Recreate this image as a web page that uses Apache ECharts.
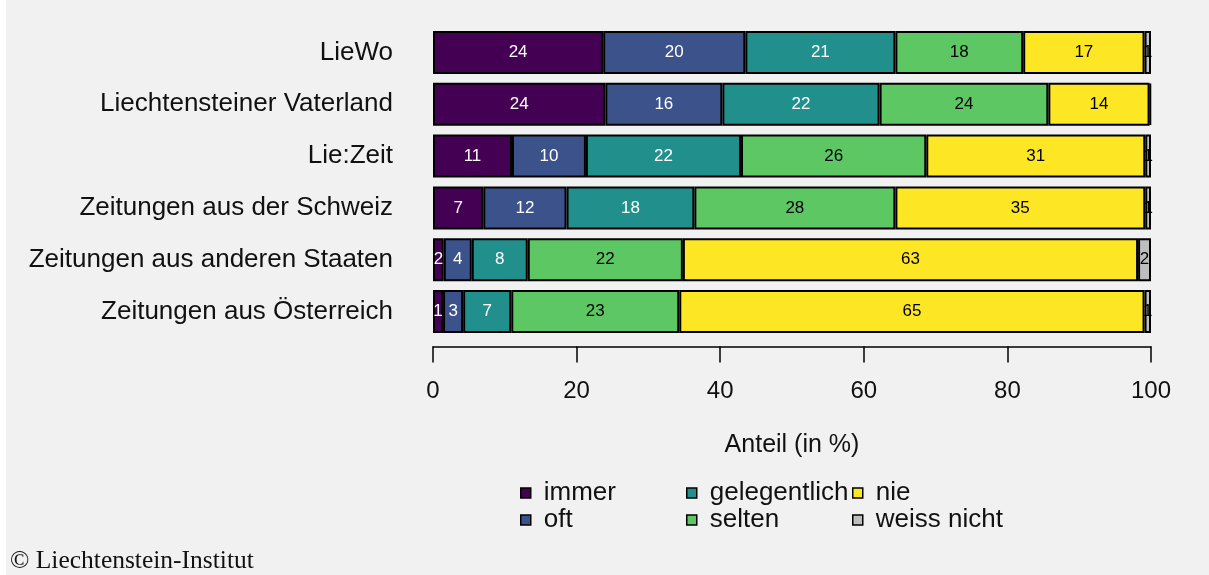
<!DOCTYPE html>
<html>
<head>
<meta charset="utf-8">
<script src="https://cdn.jsdelivr.net/npm/echarts@6/dist/echarts.min.js"></script>
<style>
  html, body { margin: 0; padding: 0; background: #fff; }
  #chart { position: absolute; left: 6px; top: 0; width: 1203px; height: 575px; background: #f1f1f1; }
</style>
</head>
<body>
<div id="chart"></div>
<script>
// Zeitungen (von oben nach unten)
var zeitungen = ['LieWo', 'Liechtensteiner Vaterland', 'Lie:Zeit', 'Zeitungen aus der Schweiz', 'Zeitungen aus anderen Staaten', 'Zeitungen aus Österreich'];
var kategorien = ['immer', 'oft', 'gelegentlich', 'selten', 'nie', 'weiss nicht'];
var farben = ['#440154', '#3b528b', '#21908c', '#5dc863', '#fde725', '#bebebe'];

// Anteile in % je Kategorie
var immer        = [23.7, 24.0, 11.0,  7.0,  1.5,  1.4];
var oft          = [19.8, 16.3, 10.3, 11.6,  3.9,  2.8];
var gelegentlich = [20.9, 21.9, 21.6, 17.8,  7.8,  6.7];
var selten       = [17.8, 23.5, 25.8, 28.0, 21.6, 23.4];
var nie          = [16.9, 14.1, 30.5, 34.8, 63.4, 64.8];
var weissNicht   = [ 0.9,  0.2,  0.8,  0.8,  1.8,  0.9];
var werte = [immer, oft, gelegentlich, selten, nie, weissNicht];

var xTicks = [0, 20, 40, 60, 80, 100];

var FONT = 'Liberation Sans, Arial, sans-serif';
var chart = echarts.init(document.getElementById('chart'));

var series = kategorien.map(function (k, i) {
  return {
    name: k,
    type: 'bar',
    stack: 'total',
    barWidth: 43,
    data: werte[i],
    itemStyle: { color: farben[i], borderColor: '#000', borderWidth: 2 },
    label: {
      show: true,
      position: 'inside',
      color: i < 3 ? '#fff' : '#000',
      fontFamily: FONT,
      fontSize: 17,
      formatter: function (p) {
        var v = Math.round(p.value);
        return v === 0 ? '' : String(v);
      }
    }
  };
});

function legende(items, left) {
  return {
    orient: 'vertical',
    left: left,
    top: 475,
    data: items,
    icon: 'rect',
    itemWidth: 10,
    itemHeight: 10,
    itemGap: 1,
    itemStyle: { borderColor: '#000', borderWidth: 1.5 },
    textStyle: { fontSize: 26, lineHeight: 26, color: '#111', fontFamily: FONT, padding: [0, 0, 0, 8] }
  };
}

chart.setOption({
  animation: false,
  backgroundColor: '#f1f1f1',
  grid: { left: 427, right: 58, top: 26.5, height: 311, containLabel: false },
  xAxis: {
    type: 'value',
    min: 0,
    max: 100,
    interval: 20,
    offset: 9,
    axisLine: { show: true, lineStyle: { color: '#000', width: 1.5 } },
    axisTick: { show: true, length: 16, lineStyle: { color: '#000', width: 1.5 } },
    axisLabel: {
      margin: 33,
      fontSize: 24,
      color: '#111',
      fontFamily: FONT,
      formatter: function (v) { return xTicks.indexOf(v) >= 0 ? String(v) : ''; }
    },
    splitLine: { show: false },
    name: 'Anteil (in %)',
    nameLocation: 'middle',
    nameGap: 86,
    nameTextStyle: { fontSize: 25, color: '#111', fontFamily: FONT }
  },
  yAxis: {
    type: 'category',
    inverse: true,
    data: zeitungen,
    axisLine: { show: false },
    axisTick: { show: false },
    axisLabel: {
      margin: 40,
      fontSize: 26,
      color: '#111',
      fontFamily: FONT
    }
  },
  legend: [
    legende(['immer', 'oft'], 509),
    legende(['gelegentlich', 'selten'], 675),
    legende(['nie', 'weiss nicht'], 841)
  ],
  graphic: [{
    type: 'text',
    left: 4,
    top: 548,
    style: {
      text: '© Liechtenstein-Institut',
      font: '25.5px "Liberation Serif", "DejaVu Serif", serif',
      fill: '#111'
    }
  }],
  series: series
});
</script>
</body>
</html>
